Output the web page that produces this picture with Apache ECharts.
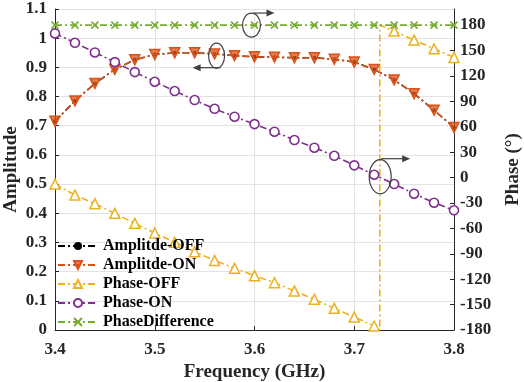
<!DOCTYPE html>
<html>
<head>
<meta charset="utf-8">
<script src="https://cdn.jsdelivr.net/npm/echarts@6/dist/echarts.min.js"></script>
<style>
html, body { margin: 0; padding: 0; background: #fff; }
#chart { width: 524px; height: 382px; }
</style>
</head>
<body>
<div id="chart"></div>
<script>
// frequency points (GHz)
var freq = [3.40, 3.42, 3.44, 3.46, 3.48, 3.50, 3.52, 3.54, 3.56, 3.58, 3.60,
            3.62, 3.64, 3.66, 3.68, 3.70, 3.72, 3.74, 3.76, 3.78, 3.80];
var ampOff = [0.715, 0.785, 0.845, 0.893, 0.926, 0.944, 0.950, 0.950, 0.946, 0.940, 0.936,
              0.935, 0.933, 0.933, 0.928, 0.918, 0.893, 0.857, 0.810, 0.753, 0.694];
var ampOn = [0.715, 0.785, 0.845, 0.893, 0.926, 0.944, 0.950, 0.950, 0.946, 0.940, 0.936,
             0.935, 0.933, 0.933, 0.928, 0.918, 0.893, 0.857, 0.810, 0.753, 0.694];
var phaseOff = [-7.7, -20.7, -30.9, -42.3, -54.1, -65.5, -76.5, -87.6, -97.8, -107.2, -115.9,
                -124.1, -134, -143.8, -154.4, -164.7, -175.3, 172.9, 162.3, 152, 141.8];
var phaseOn = [170.2, 159.1, 147.7, 136.3, 124.5, 113.1, 102.1, 91.5, 81.2, 71.8, 63.1,
               54.1, 44.3, 35.2, 25.7, 14.4, 3.3, -7.7, -19.1, -29.7, -38.7];
var phaseDiff = [180, 180, 180, 180, 180, 180, 180, 180, 180, 180, 180,
                 180, 180, 180, 180, 180, 180, 180, 180, 180, 180];
// phase-OFF wraps from -180 to 180 here
var wrapFreq = 3.7256;
var wrapPhase = [-180, 180];

function pairs(ys) {
  return freq.map(function (f, i) { return [f, ys[i]]; });
}
// phase-OFF with the wrap segment inserted
var phaseOffData = [];
for (var i = 0; i < freq.length; i++) {
  if (freq[i] > wrapFreq && freq[i - 1] < wrapFreq) {
    phaseOffData.push({ value: [wrapFreq, wrapPhase[0]], symbol: 'none' });
    phaseOffData.push({ value: [wrapFreq, wrapPhase[1]], symbol: 'none' });
  }
  phaseOffData.push([freq[i], phaseOff[i]]);
}

var dashDot = [7, 3, 2, 3];
var serif = 'Liberation Serif';
var tickFont = { fontFamily: serif, fontWeight: 'bold', fontSize: 17, color: '#262626' };
var titleFont = { fontFamily: serif, fontWeight: 'bold', fontSize: 19, color: '#262626' };

var option = {
  animation: false,
  backgroundColor: '#fff',
  grid: { left: 55, right: 70, top: 9, bottom: 52, containLabel: false, outerBoundsMode: 'none' },
  legend: {
    orient: 'vertical',
    left: 52,
    top: 233,
    itemWidth: 40,
    itemHeight: 10,
    itemGap: 3,
    textStyle: { fontFamily: serif, fontWeight: 'bold', fontSize: 16, color: '#000' },
    data: ['Amplitde-OFF', 'Amplitde-ON', 'Phase-OFF', 'Phase-ON', 'PhaseDifference']
  },
  xAxis: {
    type: 'value',
    min: 3.4, max: 3.8, interval: 0.1,
    name: 'Frequency (GHz)',
    nameLocation: 'middle',
    nameGap: 33,
    nameTextStyle: titleFont,
    axisLine: { lineStyle: { color: '#262626', width: 1 } },
    axisTick: { inside: true, length: 4, lineStyle: { color: '#262626' } },
    axisLabel: Object.assign({ margin: 11, formatter: function (v) { return v.toFixed(1); } }, tickFont),
    splitLine: { show: true, lineStyle: { color: '#e3e3e3' } }
  },
  yAxis: [{
    type: 'value',
    min: 0, max: 1.1, interval: 0.1,
    name: 'Amplitude',
    nameLocation: 'middle',
    nameGap: 34,
    nameMoveOverlap: false,
    nameTextStyle: titleFont,
    axisLine: { show: true, lineStyle: { color: '#262626' } },
    axisTick: { show: true, inside: true, length: 4, lineStyle: { color: '#262626' } },
    axisLabel: Object.assign({ margin: 8, formatter: function (v) { return String(Math.round(v * 10) / 10); } }, tickFont),
    splitLine: { show: true, lineStyle: { color: '#e3e3e3' } }
  }, {
    type: 'value',
    position: 'right',
    min: -180, max: 199, interval: 30,
    name: 'Phase (°)',
    nameLocation: 'middle',
    nameGap: 50,
    nameRotate: 90,
    nameTextStyle: titleFont,
    axisLine: { show: true, lineStyle: { color: '#262626' } },
    axisTick: { show: true, inside: true, length: 4, lineStyle: { color: '#262626' } },
    axisLabel: Object.assign({
      margin: 6,
      showMaxLabel: false,
      formatter: function (v) { return (Math.round(v) % 30 === 0) ? String(Math.round(v)) : ''; }
    }, tickFont),
    splitLine: { show: false }
  }],
  series: [{
    name: 'Amplitde-OFF',
    type: 'line',
    yAxisIndex: 0,
    data: pairs(ampOff),
    symbol: 'circle',
    symbolSize: 4,
    itemStyle: { color: '#000' },
    lineStyle: { color: '#000', width: 1.5, type: dashDot },
    z: 2
  }, {
    name: 'Amplitde-ON',
    type: 'line',
    yAxisIndex: 0,
    data: pairs(ampOn),
    symbol: 'triangle',
    symbolRotate: 180,
    symbolSize: 10,
    itemStyle: { color: 'rgba(217,83,25,0.75)', borderColor: '#D95319', borderWidth: 1.5 },
    lineStyle: { color: '#D95319', width: 1.6, type: dashDot },
    z: 3
  }, {
    name: 'Phase-OFF',
    type: 'line',
    yAxisIndex: 1,
    data: phaseOffData,
    symbol: 'triangle',
    symbolSize: 10,
    itemStyle: { color: '#fff', borderColor: '#EDB120', borderWidth: 1.5 },
    lineStyle: { color: '#EDB120', width: 1.6, type: dashDot },
    z: 3
  }, {
    name: 'Phase-ON',
    type: 'line',
    yAxisIndex: 1,
    data: pairs(phaseOn),
    symbol: 'circle',
    symbolSize: 9,
    itemStyle: { color: '#fff', borderColor: '#7E2F8E', borderWidth: 1.6 },
    lineStyle: { color: '#7E2F8E', width: 1.6, type: dashDot },
    z: 3
  }, {
    name: 'PhaseDifference',
    type: 'line',
    yAxisIndex: 1,
    data: pairs(phaseDiff),
    symbol: 'path://M0,0L10,10M10,0L0,10',
    symbolSize: 7,
    itemStyle: { color: '#77AC30', borderColor: '#77AC30', borderWidth: 1.6 },
    lineStyle: { color: '#77AC30', width: 1.6, type: dashDot },
    z: 3
  }]
};

var myChart = echarts.init(document.getElementById('chart'));
myChart.setOption(option);

// annotation ellipses with arrows, placed from data coordinates
var annoColor = '#404040';
function arrow(x1, y1, x2, y2) {
  var dir = x2 > x1 ? 1 : -1;
  return [{
    type: 'line', z: 100,
    shape: { x1: x1, y1: y1, x2: x2 - dir * 6, y2: y2 },
    style: { stroke: annoColor, lineWidth: 1.2 }
  }, {
    type: 'polygon', z: 100,
    shape: { points: [[x2, y2], [x2 - dir * 8, y2 - 3.5], [x2 - dir * 8, y2 + 3.5]] },
    style: { fill: annoColor }
  }];
}
function ellipse(cx, cy, rx, ry) {
  return {
    type: 'ellipse', z: 100,
    shape: { cx: cx, cy: cy, rx: rx, ry: ry },
    style: { fill: 'none', stroke: annoColor, lineWidth: 1.2 }
  };
}
var pDiff = myChart.convertToPixel({ gridIndex: 0 }, [3.597, 1.045]);
var pAmp = myChart.convertToPixel({ gridIndex: 0 }, [3.562, 0.94]);
var pPh = myChart.convertToPixel({ xAxisIndex: 0, yAxisIndex: 1 }, [3.726, 1]);
var els = [];
els.push(ellipse(pDiff[0], pDiff[1], 9, 12));
els = els.concat(arrow(pDiff[0] + 2, pDiff[1] - 12, pDiff[0] + 23, pDiff[1] - 12));
els.push(ellipse(pAmp[0], pAmp[1], 8, 12.5));
els = els.concat(arrow(pAmp[0] + 4, pAmp[1] + 12, pAmp[0] - 24, pAmp[1] + 12));
els.push(ellipse(pPh[0], pPh[1], 11, 17));
els = els.concat(arrow(pPh[0] + 1, pPh[1] - 18, pPh[0] + 30, pPh[1] - 18));
myChart.setOption({ graphic: els });
</script>
</body>
</html>
